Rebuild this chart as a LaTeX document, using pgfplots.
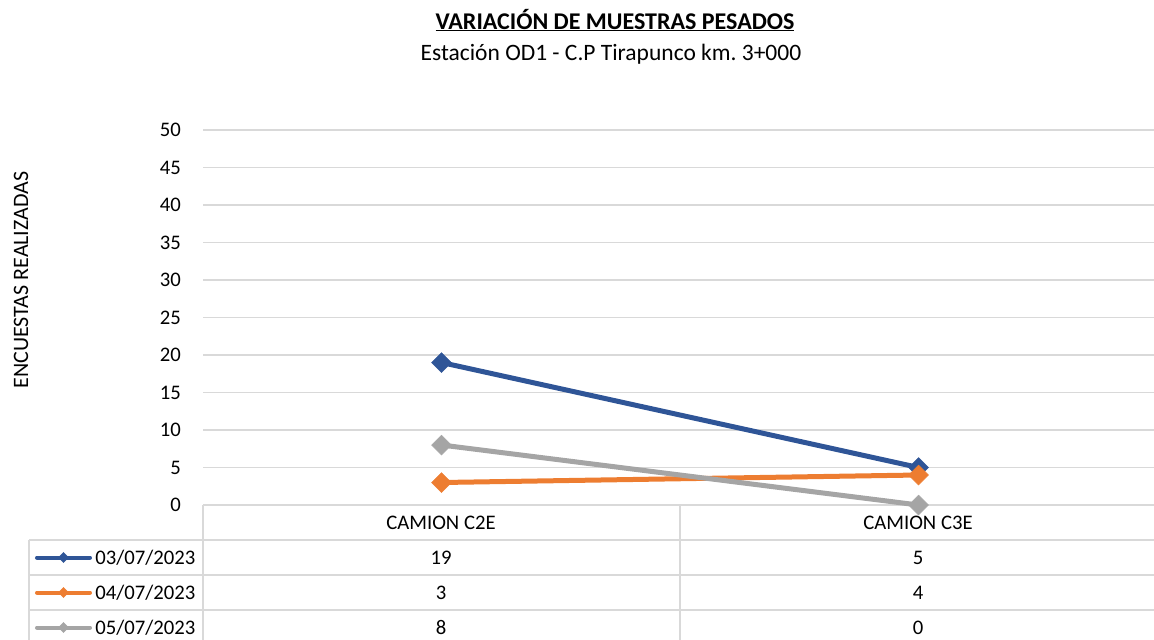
\documentclass[border=0pt]{standalone}
\usepackage{fontspec}
\setmainfont{Carlito}
\usepackage{pgfplots}
\pgfplotsset{compat=1.18}
\definecolor{cblue}{HTML}{2F5597}
\definecolor{corange}{HTML}{ED7D31}
\definecolor{cgray}{HTML}{A5A5A5}
\definecolor{cgrid}{HTML}{D9D9D9}
\newcommand{\fs}{\fontsize{20.7bp}{24bp}\selectfont}
\frenchspacing
\begin{document}
\begin{tikzpicture}
\begin{axis}[
  at={(203bp,-505bp)}, anchor=south west,
  scale only axis, width=954bp, height=375bp,
  xmin=-0.5, xmax=1.5, ymin=0, ymax=50,
  xtick=\empty, ytick={0,5,...,50},
  axis line style={draw=none},
  ymajorgrids, grid style={line width=1.5bp, cgrid},
  major tick length=0pt,
  /pgf/number format/assume math mode=true,
  yticklabel style={font=\fs, inner sep=0pt, anchor=east, xshift=-22bp},
  clip=false,
  legend style={at={(-0.17610,-0.09333)}, anchor=north west, draw=none, fill=none,
    inner sep=0pt, outer sep=0pt, row sep=0pt, font=\fs,
    nodes={inner sep=0pt, text height=24bp, text depth=11bp},
    /tikz/every odd column/.append style={column sep=3.5bp}},
  legend cell align=left,
  legend image code/.code={
    \draw[#1, line width=4bp, line cap=round] (1bp,0bp) -- (54bp,0bp);
    \draw[#1, mark size=3.5bp, mark options={rotate=45, line width=0.5bp}] plot coordinates {(27.5bp,0bp)};
  },
]
\addplot[cblue, line width=5bp, line cap=round, mark=square*, mark size=7bp, mark options={rotate=45, line width=0.5bp}] coordinates {(0,19) (1,5)};
\addlegendentry{03/07/2023}
\addplot[corange, line width=5bp, line cap=round, mark=square*, mark size=7bp, mark options={rotate=45, line width=0.5bp}] coordinates {(0,3) (1,4)};
\addlegendentry{04/07/2023}
\addplot[cgray, line width=5bp, line cap=round, mark=square*, mark size=7bp, mark options={rotate=45, line width=0.5bp}] coordinates {(0,8) (1,0)};
\addlegendentry{05/07/2023}
\end{axis}
\begin{scope}[x=1bp,y=-1bp]
\draw[cgrid, line width=1.5bp] (29,540) -- (1160,540) (29,575) -- (1160,575) (29,610) -- (1160,610);
\draw[cgrid, line width=1.5bp] (29,540) -- (29,645) (203,505) -- (203,645) (680,505) -- (680,645);
\node[font=\fs, inner sep=0pt] at (441,522.5) {CAMION C2E};
\node[font=\fs, inner sep=0pt] at (918,522.5) {CAMION C3E};
\node[font=\fs, inner sep=0pt] at (441,557.5) {19};
\node[font=\fs, inner sep=0pt] at (918,557.5) {5};
\node[font=\fs, inner sep=0pt] at (441,592.5) {3};
\node[font=\fs, inner sep=0pt] at (918,592.5) {4};
\node[font=\fs, inner sep=0pt] at (441,627.5) {8};
\node[font=\fs, inner sep=0pt] at (918,627.5) {0};
\node[font=\fontsize{24bp}{28bp}\selectfont\bfseries, anchor=base, inner sep=0pt] at (615,29) {\underline{VARIACIÓN DE MUESTRAS PESADOS}};
\node[font=\fontsize{23.5bp}{28bp}\selectfont, anchor=base, inner sep=0pt] at (611,60) {Estación OD1 - C.P Tirapunco km. 3+000};
\node[font=\fontsize{22bp}{26bp}\selectfont, rotate=90, anchor=base, inner sep=0pt] at (28,280) {ENCUESTAS REALIZADAS};
\end{scope}
\pgfresetboundingbox
\path[use as bounding box] (0,0) rectangle (1154bp,-640bp);
\end{tikzpicture}
\end{document}
